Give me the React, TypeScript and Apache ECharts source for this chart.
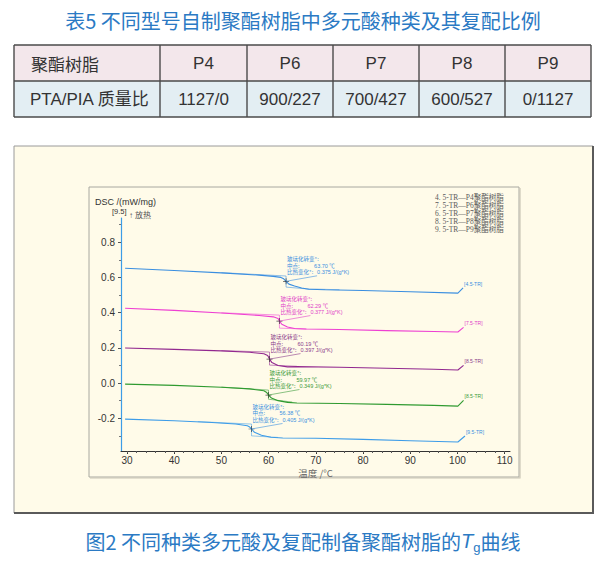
import React, { useEffect, useRef } from "react";
import * as echarts from "echarts";

// ---------- table data ----------
const tableTitle = "表5 不同型号自制聚酯树脂中多元酸种类及其复配比例";
const rowHead1 = "聚酯树脂";
const rowHead2 = "PTA/PIA 质量比";
const resinNames = ["P4", "P6", "P7", "P8", "P9"];
const ptaPiaRatios = ["1127/0", "900/227", "700/427", "600/527", "0/1127"];

// ---------- DSC curves [temperature °C, DSC mW/mg] ----------
const curveP4 = [[29.6, 0.652], [40, 0.639], [50, 0.626], [58, 0.613], [61, 0.606], [62.6, 0.6], [63.2, 0.592], [63.7, 0.578], [64.3, 0.562], [65.5, 0.551], [67, 0.54], [68.5, 0.533], [72, 0.53], [80, 0.526], [90, 0.519], [100.1, 0.511], [101.2, 0.54]];
const curveP6 = [[29.6, 0.425], [40, 0.413], [50, 0.398], [58, 0.384], [61, 0.376], [62, 0.367], [62.3, 0.352], [62.8, 0.334], [64, 0.318], [65.5, 0.31], [68, 0.307], [75, 0.304], [85, 0.298], [95, 0.293], [100.1, 0.29], [101.3, 0.316]];
const curveP7 = [[29.6, 0.199], [40, 0.191], [50, 0.183], [56, 0.175], [59, 0.166], [59.8, 0.156], [60.2, 0.136], [60.7, 0.116], [62, 0.1], [64, 0.092], [66, 0.093], [75, 0.09], [85, 0.084], [95, 0.078], [100.1, 0.074], [101.3, 0.1]];
const curveP8 = [[29.6, -0.006], [40, -0.013], [50, -0.024], [56, -0.033], [59, -0.044], [59.6, -0.054], [60, -0.068], [60.6, -0.085], [62, -0.1], [64, -0.11], [66, -0.113], [75, -0.116], [85, -0.121], [95, -0.127], [100.1, -0.131], [101.3, -0.098]];
const curveP9 = [[29.6, -0.205], [40, -0.214], [48, -0.224], [53, -0.233], [55.5, -0.243], [56, -0.25], [56.4, -0.261], [57, -0.28], [58.5, -0.297], [60.5, -0.308], [63, -0.312], [70, -0.314], [80, -0.32], [90, -0.328], [100.1, -0.335], [101.6, -0.301]];

// tangent constructions (upper tangent -> step -> lower tangent)
const tangentP4 = [[50, 0.627], [63.7, 0.608], [63.7, 0.545], [68, 0.535], [75, 0.53]];
const tangentP6 = [[50, 0.399], [62.29, 0.386], [62.29, 0.312], [68, 0.306]];
const tangentP7 = [[50, 0.184], [60.19, 0.176], [60.19, 0.102], [66, 0.095]];
const tangentP8 = [[50, -0.023], [59.97, -0.04], [59.97, -0.092], [65, -0.108]];
const tangentP9 = [[45, -0.219], [56.38, -0.233], [56.38, -0.3], [62, -0.309]];

const tgValues = [63.7, 62.29, 60.19, 59.97, 56.38];
const tgMidDsc = [0.578, 0.352, 0.136, -0.068, -0.261];
const deltaCp = ["0.375", "0.377", "0.397", "0.349", "0.405"];
const endTags = ["[4.5-TR]", "[7.5-TR]", "[8.5-TR]", "[8.5-TR]", "[9.5-TR]"];
const legendLines = ["4. 5-TR—P4聚酯树脂", "7. 5-TR—P6聚酯树脂", "6. 5-TR—P7聚酯树脂", "8. 5-TR—P8聚酯树脂", "9. 5-TR—P9聚酯树脂"];

const xMajorTicks = [30, 40, 50, 60, 70, 80, 90, 100, 110];
const xMinorTicks = [30, 32, 34, 36, 38, 40, 42, 44, 46, 48, 50, 52, 54, 56, 58, 60, 62, 64, 66, 68, 70, 72, 74, 76, 78, 80, 82, 84, 86, 88, 90, 92, 94, 96, 98, 100, 102, 104, 106, 108, 110];
const yMajorTicks = [-0.2, 0, 0.2, 0.4, 0.6, 0.8];
const yMinorTicks = [-0.3, -0.1, 0.1, 0.3, 0.5, 0.7, 0.9];

const curves = [curveP4, curveP6, curveP7, curveP8, curveP9];
const tangents = [tangentP4, tangentP6, tangentP7, tangentP8, tangentP9];
const curveColors = ["#3a8ee0", "#ee3fd2", "#92288f", "#2f9a30", "#3d9ce8"];
const textColors = ["#3a8ee0", "#e040c8", "#8a3a8a", "#3a9a3a", "#3a90e0"];

const SANS = "Liberation Sans, Arial, Noto Sans CJK SC, sans-serif";
const CJK = "Noto Sans CJK SC, sans-serif";
const SERIF = "Liberation Serif, DejaVu Serif, Noto Sans CJK SC, serif";
const BLUE_TITLE = "#2b7ac4";
const CREAM = "#fffbe9";

const colX = [14, 160, 247, 333, 419, 505, 591];
const rowY = [45, 81, 117];

function staticGraphics(): any[] {
  const g: any[] = [];
  g.push({ type: "text", x: 303, y: 20, z: 50, style: { text: tableTitle, font: `20px ${CJK}`, fill: BLUE_TITLE, align: "center", verticalAlign: "middle" } });
  // table rows
  g.push({ type: "rect", z: -5, shape: { x: colX[0], y: rowY[0], width: colX[6] - colX[0], height: rowY[1] - rowY[0] }, style: { fill: "#f3e7eb" } });
  g.push({ type: "rect", z: -5, shape: { x: colX[0], y: rowY[1], width: colX[6] - colX[0], height: rowY[2] - rowY[1] }, style: { fill: "#e3eef3" } });
  for (const y of rowY) g.push({ type: "line", z: 5, shape: { x1: colX[0], y1: y, x2: colX[6], y2: y }, style: { stroke: "#4a4a4a", lineWidth: 1.4 } });
  for (const x of colX) g.push({ type: "line", z: 5, shape: { x1: x, y1: rowY[0], x2: x, y2: rowY[2] }, style: { stroke: "#4a4a4a", lineWidth: 1.4 } });
  g.push({ type: "text", x: 31, y: 63, z: 50, style: { text: rowHead1, font: `17px ${CJK}`, fill: "#333", verticalAlign: "middle" } });
  g.push({ type: "text", x: 30, y: 99.5, z: 50, style: { text: rowHead2, font: `17px ${SANS}`, fill: "#333", verticalAlign: "middle" } });
  resinNames.forEach((n, i) => {
    const cx = (colX[i + 1] + colX[i + 2]) / 2;
    g.push({ type: "text", x: cx, y: 63, z: 50, style: { text: n, font: `17px ${SANS}`, fill: "#333", align: "center", verticalAlign: "middle" } });
    g.push({ type: "text", x: cx, y: 99.5, z: 50, style: { text: ptaPiaRatios[i], font: `17px ${SANS}`, fill: "#333", align: "center", verticalAlign: "middle" } });
  });
  // outer chart box
  g.push({ type: "rect", z: -6, shape: { x: 14, y: 146, width: 579, height: 367 }, style: { fill: CREAM, stroke: "#9a9a9a", lineWidth: 1 } });
  g.push({ type: "polyline", z: -4, shape: { points: [[593, 146], [593, 513], [14, 513]] }, style: { stroke: "#5a5a5a", lineWidth: 2, fill: null } });
  // inner box
  g.push({ type: "rect", z: -4, shape: { x: 89, y: 187, width: 430, height: 290 }, style: { fill: CREAM, stroke: "#a8a8a0", lineWidth: 1 } });
  g.push({ type: "polyline", z: -3, shape: { points: [[520, 188], [520, 478], [90, 478]] }, style: { stroke: "#cac6b6", lineWidth: 1.2, fill: null } });
  // axis titles
  g.push({ type: "text", x: 95, y: 202, z: 50, style: { text: "DSC /(mW/mg)", font: `9px ${SANS}`, fill: "#333", verticalAlign: "middle" } });
  g.push({ type: "text", x: 112, y: 211, z: 50, style: { text: "[9.5]", font: `7.5px ${SANS}`, fill: "#333", verticalAlign: "middle" } });
  g.push({ type: "text", x: 129, y: 215.5, z: 50, style: { text: "↑ 放热", font: `8px ${SERIF}`, fill: "#555", verticalAlign: "middle" } });
  legendLines.forEach((t, i) => {
    g.push({ type: "text", x: 435, y: 197 + i * 8, z: 50, style: { text: t, font: `7.5px ${SERIF}`, fill: "#5a5a5a", verticalAlign: "middle" } });
  });
  // caption
  g.push({
    type: "text", x: 303, y: 541, z: 50,
    style: {
      text: "{a|图2 不同种类多元酸及复配制备聚酯树脂的}{t|T}{g|g}{a|曲线}",
      align: "center", verticalAlign: "middle",
      rich: {
        a: { fontSize: 20, fontFamily: CJK, fill: BLUE_TITLE, lineHeight: 26, verticalAlign: "middle" },
        t: { fontSize: 20, fontFamily: SANS, fontStyle: "italic", fill: BLUE_TITLE, lineHeight: 26, verticalAlign: "middle" },
        g: { fontSize: 13, fontFamily: SANS, fill: BLUE_TITLE, lineHeight: 13, verticalAlign: "bottom" },
      },
    },
  });
  return g;
}

function buildOption(): any {
  const series: any[] = [];
  curves.forEach((c, i) => {
    series.push({
      type: "line", data: c, showSymbol: false, smooth: false, z: 3,
      lineStyle: { color: curveColors[i], width: 1.1 },
      endLabel: { show: true, formatter: endTags[i], fontSize: 5, fontFamily: SANS, color: textColors[i], offset: [-7, -4] },
    });
    series.push({
      type: "line", data: tangents[i], showSymbol: false, z: 2,
      lineStyle: { color: curveColors[i], width: 0.7, opacity: 0.8 },
    });
  });
  series.push({
    type: "scatter", z: 5,
    data: tgValues.map((t, i) => [t, tgMidDsc[i]]),
    symbol: "path://M4.4,0H5.6V10H4.4ZM0,4.4H10V5.6H0Z", symbolSize: 6,
    itemStyle: { color: "#222" },
  });
  return {
    animation: false,
    backgroundColor: "#ffffff",
    grid: { left: 121, right: 96, top: 218, bottom: 120, containLabel: false },
    xAxis: [
      {
        type: "value", min: 28.73, max: 111.14, position: "bottom",
        name: "温度 /°C", nameLocation: "middle", nameGap: 17,
        nameTextStyle: { fontSize: 9.5, color: "#666", fontFamily: CJK },
        axisLine: { show: true, onZero: false, lineStyle: { color: "#333", width: 1 } },
        axisTick: { show: true, customValues: xMajorTicks, length: 3, lineStyle: { color: "#333" } },
        axisLabel: { show: true, customValues: xMajorTicks, fontSize: 10, color: "#333", fontFamily: SANS, margin: 4 },
        splitLine: { show: false },
      },
      {
        type: "value", min: 28.73, max: 111.14, position: "bottom", offset: 0,
        axisLine: { show: false, onZero: false },
        axisTick: { show: true, customValues: xMinorTicks, length: 2, lineStyle: { color: "#555" } },
        axisLabel: { show: false },
        splitLine: { show: false },
      },
    ],
    yAxis: [
      {
        type: "value", min: -0.386, max: 0.9375, position: "left",
        axisLine: { show: true, onZero: false, lineStyle: { color: "#3d9de6", width: 1.2 } },
        axisTick: { show: true, customValues: yMajorTicks, length: 3, lineStyle: { color: "#555" } },
        axisLabel: { show: true, customValues: yMajorTicks, formatter: (v: number) => v.toFixed(1), fontSize: 10, color: "#333", fontFamily: SANS, margin: 6 },
        splitLine: { show: false },
      },
      {
        type: "value", min: -0.386, max: 0.9375, position: "left", offset: 0,
        axisLine: { show: false, onZero: false },
        axisTick: { show: true, customValues: yMinorTicks, length: 2, lineStyle: { color: "#777" } },
        axisLabel: { show: false },
        splitLine: { show: false },
      },
    ],
    series,
  };
}

function annotationGraphics(chart: any): any[] {
  const g: any[] = [];
  tgValues.forEach((t, i) => {
    const p = chart.convertToPixel({ xAxisIndex: 0, yAxisIndex: 0 }, [t, tgMidDsc[i]]);
    if (!p) return;
    const [mx, my] = p;
    const col = textColors[i];
    const f = `5.5px ${CJK}`;
    const fs = `5.5px ${SANS}`;
    g.push({ type: "text", x: mx + 1, y: my - 22, z: 60, style: { text: "玻璃化转变*:", font: f, fill: col, verticalAlign: "middle" } });
    g.push({ type: "text", x: mx + 1, y: my - 15.5, z: 60, style: { text: "中点:", font: f, fill: col, verticalAlign: "middle" } });
    g.push({ type: "text", x: mx + 28, y: my - 15.5, z: 60, style: { text: `${t.toFixed(2)} ℃`, font: fs, fill: col, verticalAlign: "middle" } });
    g.push({ type: "text", x: mx + 1, y: my - 9, z: 60, style: { text: "比热变化*:", font: f, fill: col, verticalAlign: "middle" } });
    g.push({ type: "text", x: mx + 31, y: my - 9, z: 60, style: { text: `${deltaCp[i]} J/(g*K)`, font: fs, fill: col, verticalAlign: "middle" } });
    g.push({ type: "line", z: 60, shape: { x1: mx, y1: my, x2: mx + 31, y2: my - 5.5 }, style: { stroke: col, lineWidth: 0.6 } });
  });
  return g;
}

export default function App() {
  const ref = useRef<HTMLDivElement>(null);
  useEffect(() => {
    if (!ref.current) return;
    const chart = echarts.init(ref.current, null, { renderer: "svg" });
    chart.setOption(buildOption());
    const graphics = [...staticGraphics(), ...annotationGraphics(chart)];
    chart.setOption({ graphic: graphics });
    return () => chart.dispose();
  }, []);
  return <div ref={ref} style={{ position: "fixed", left: 0, top: 0, width: 606, height: 571 }} />;
}
